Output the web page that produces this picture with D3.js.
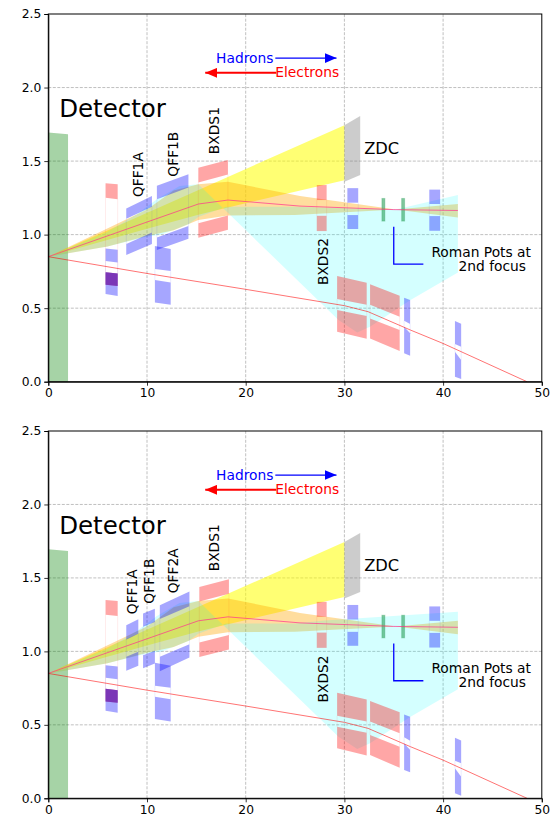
<!DOCTYPE html>
<html>
<head>
<meta charset="utf-8">
<script src="https://cdn.jsdelivr.net/npm/d3@7"></script>
<style>
body { margin: 0; background: white; }
text { font-family: "DejaVu Sans", sans-serif; }
</style>
</head>
<body>
<div class="container"></div>
<script>
let width = 553
let height = 824

let xTicks = [0, 10, 20, 30, 40, 50]
let yTicks = [0, 0.5, 1, 1.5, 2, 2.5]

// beam envelopes, [z, y]
let detector = [[0, 0], [0, 1.695], [2, 1.683], [2, 0]]
let zdc = [[30, 1.744], [31.6, 1.806], [31.6, 1.405], [30, 1.36]]
let cyanFan = [[0, 0.85], [6, 1.02], [9, 1.14], [11, 1.24], [13.3, 1.33], [15.2, 1.343], [25.5, 0.673], [29.4, 0.419], [31.3, 0.335], [32.6, 0.374], [36.7, 0.555], [41.5, 0.743], [41.5, 1.269], [35.2, 1.17], [25, 1.19], [18, 1.19], [15.2, 1.12], [14.2, 1.07], [11.5, 1.0], [10, 0.985], [6, 0.92]]
let cyanFanLower = [[0, 0.85], [6, 1.02], [9, 1.14], [11, 1.24], [13.3, 1.33], [15.2, 1.343], [25.5, 0.673], [29.4, 0.419], [31.3, 0.335], [32.6, 0.374], [36.7, 0.555], [41.5, 0.743], [41.5, 1.269], [28, 1.21], [25, 1.19], [18, 1.19], [15.2, 1.12], [14.2, 1.07], [11.5, 1.0], [10, 0.985], [6, 0.92]]
let yellowFan = [[0, 0.85], [30, 1.744], [30, 1.37], [18.2, 1.185], [15.2, 1.135], [10, 1.04]]
let orangeBand = [[0, 0.85], [10, 1.17], [12.7, 1.3], [15.2, 1.343], [18.2, 1.36], [25.5, 1.262], [35.2, 1.17], [41.5, 1.208], [41.5, 1.117], [35.2, 1.17], [25, 1.133], [18.2, 1.13], [15.2, 1.1], [12.7, 1.03], [10, 0.99], [6, 0.92]]
let hadronOrbit = [[0, 0.85], [15.2, 1.208], [18.2, 1.235], [25.5, 1.194], [35, 1.17], [41.5, 1.164]]
let electronOrbit = [[0, 0.85], [10, 0.736], [20, 0.628], [24.5, 0.578], [30, 0.517], [32.4, 0.476], [36.7, 0.351], [40, 0.26], [48.5, 0]]

// magnets: z0, z1, then upper block and lower block corners
let sharedRed = [
  [5.8, 7.03, 1.35, 1.343, 1.241, 1.25, 0.745, 0.736, 0.65, 0.659],
  [27.2, 28.2, 1.337, 1.337, 1.235, 1.235, 1.128, 1.128, 1.024, 1.024],
  [29.26, 32.26, 0.718, 0.673, 0.523, 0.562, 0.487, 0.446, 0.292, 0.34],
  [32.6, 35.6, 0.662, 0.585, 0.442, 0.523, 0.43, 0.351, 0.208, 0.294]
]
let sharedBlue = [
  [5.8, 7.03, 0.906, 0.897, 0.811, 0.82, 0.745, 0.736, 0.582, 0.596],
  [10.8, 12.4, 0.922, 0.902, 0.752, 0.766, 0.691, 0.675, 0.523, 0.539],
  [30.3, 31.4, 1.316, 1.316, 1.217, 1.217, 1.133, 1.133, 1.038, 1.038],
  [38.6, 39.7, 1.306, 1.306, 1.208, 1.208, 1.126, 1.126, 1.026, 1.026],
  [36.05, 36.66, 0.571, 0.555, 0.392, 0.415, 0.374, 0.329, 0.177, 0.193],
  [41.2, 41.83, 0.412, 0.394, 0.238, 0.256, 0.204, 0.147, 0.018, 0.034]
]
let overlap = [[5.8, 0.745], [7.03, 0.736], [7.03, 0.65], [5.8, 0.659]]
let romanPots = [[33.8, 34.1, 1.246, 1.092], [35.8, 36.1, 1.246, 1.092]]
let romanBracket = [[35, 1.054], [35, 0.8], [38, 0.8]]

let topRed = [[15.2, 18.2, 1.454, 1.507, 1.409, 1.355, 1.078, 1.13, 1.033, 0.979]]
let bottomRed = [[15.3, 18.3, 1.439, 1.491, 1.393, 1.339, 1.06, 1.112, 1.013, 0.961]]
let topBlue = [
  [7.9, 10.5, 1.178, 1.262, 1.189, 1.108, 0.936, 1.015, 0.936, 0.861],
  [11, 14.2, 1.332, 1.411, 1.321, 1.241, 0.981, 1.058, 0.972, 0.895]
]
let bottomBlue = [
  [7.9, 9.12, 1.178, 1.219, 1.12, 1.08, 0.963, 0.997, 0.902, 0.868],
  [9.6, 10.8, 1.257, 1.291, 1.2, 1.167, 0.974, 1.004, 0.918, 0.886],
  [11.3, 14.3, 1.314, 1.407, 1.307, 1.221, 0.963, 1.049, 0.958, 0.865]
]

// labels: text, z, y
let sharedLabels = [["Detector", 1.1, 1.797, 24.5], ["ZDC", 32, 1.548, 16.3]]
let topRotated = [["QFF1A", 9.6, 1.255], ["QFF1B", 13.1, 1.394], ["BXDS1", 17.3, 1.547], ["BXDS2", 28.3, 0.657]]
let bottomRotated = [["QFF1A", 8.96, 1.253], ["QFF1B", 10.7, 1.325], ["QFF2A", 13.1, 1.395], ["BXDS1", 17.3, 1.545], ["BXDS2", 28.3, 0.652]]

let svg = d3.select(".container")
  .append("svg")
  .attr("width", width)
  .attr("height", height)
  .style("display", "block")

let defs = svg.append("defs")
defs.append("marker").attr("id", "headBlue").attr("viewBox", "0 0 12 10").attr("refX", 12).attr("refY", 5)
  .attr("markerWidth", 12).attr("markerHeight", 10).attr("markerUnits", "userSpaceOnUse").attr("orient", "auto")
  .append("path").attr("d", "M0,0L12,5L0,10Z").attr("fill", "#0000ff")
defs.append("marker").attr("id", "headRed").attr("viewBox", "0 0 12 10").attr("refX", 12).attr("refY", 5)
  .attr("markerWidth", 12).attr("markerHeight", 10).attr("markerUnits", "userSpaceOnUse").attr("orient", "auto")
  .append("path").attr("d", "M0,0L12,5L0,10Z").attr("fill", "#ff0000")

function drawPanel(top, bottom, opts) {
  let x = d3.scaleLinear().domain([0, 50]).range([48.3, 541.8])
  let y = d3.scaleLinear().domain([0, 2.5]).range([bottom, top])
  let g = svg.append("g")
  let line = d3.line().x(d => x(d[0])).y(d => y(d[1]))
  let closed = pts => line(pts) + "Z"

  g.selectAll(".gx").data(xTicks.slice(1, -1)).enter().append("line")
    .attr("x1", d => x(d)).attr("x2", d => x(d)).attr("y1", bottom).attr("y2", top)
    .attr("stroke", "#b0b0b0").attr("stroke-width", 0.8).attr("stroke-dasharray", "3,1.5")
  g.selectAll(".gy").data(yTicks.slice(1, -1)).enter().append("line")
    .attr("y1", d => y(d)).attr("y2", d => y(d)).attr("x1", x(0)).attr("x2", x(50))
    .attr("stroke", "#b0b0b0").attr("stroke-width", 0.8).attr("stroke-dasharray", "3,1.5")

  g.append("path").attr("d", closed(detector)).attr("fill", "green").attr("fill-opacity", 0.35)
  g.append("path").attr("d", closed(yellowFan)).attr("fill", "yellow").attr("fill-opacity", 0.55)
  g.append("path").attr("d", closed(orangeBand)).attr("fill", "orange").attr("fill-opacity", 0.38).attr("fill-rule", "evenodd")
  g.append("path").attr("d", closed(opts.cyan)).attr("fill", "cyan").attr("fill-opacity", 0.17)
  g.append("path").attr("d", closed(zdc)).attr("fill", "#808080").attr("fill-opacity", 0.4)

  function magnets(data, color) {
    data.forEach(m => {
      let z0 = m[0], z1 = m[1]
      g.append("path").attr("d", closed([[z0, m[2]], [z1, m[3]], [z1, m[4]], [z0, m[5]]]))
        .attr("fill", color).attr("fill-opacity", 0.35)
      g.append("path").attr("d", closed([[z0, m[6]], [z1, m[7]], [z1, m[8]], [z0, m[9]]]))
        .attr("fill", color).attr("fill-opacity", 0.35)
      // faint aperture edges between the two blocks
      g.append("path").attr("d", line([[z0, m[5]], [z0, m[6]]])).attr("stroke", color).attr("stroke-opacity", 0.08).attr("fill", "none")
      g.append("path").attr("d", line([[z1, m[4]], [z1, m[7]]])).attr("stroke", color).attr("stroke-opacity", 0.08).attr("fill", "none")
    })
  }
  magnets(sharedRed.concat(opts.red), "#ff0000")
  magnets(sharedBlue.concat(opts.blue), "#0000ff")
  g.append("path").attr("d", closed(overlap)).attr("fill", "#6a20b0").attr("fill-opacity", 0.7)

  romanPots.forEach(r => {
    g.append("rect").attr("x", x(r[0])).attr("width", x(r[1]) - x(r[0]))
      .attr("y", y(r[2])).attr("height", y(r[3]) - y(r[2]))
      .attr("fill", "#2ca05a").attr("fill-opacity", 0.6)
      .attr("stroke", "#2ca05a").attr("stroke-opacity", 0.3).attr("stroke-width", 1)
  })

  g.append("path").attr("d", line(hadronOrbit)).attr("fill", "none").attr("stroke", "#ff3090").attr("stroke-opacity", 0.7).attr("stroke-width", 1)
  g.append("path").attr("d", line(electronOrbit)).attr("fill", "none").attr("stroke", "#ff0000").attr("stroke-opacity", 0.55).attr("stroke-width", 1)

  g.append("path").attr("d", line(romanBracket)).attr("fill", "none").attr("stroke", "#0000ff").attr("stroke-width", 1.3)

  // axes
  g.append("g").attr("transform", `translate(0,${bottom})`)
    .call(d3.axisBottom(x).tickValues(xTicks).tickSize(4).tickPadding(3).tickFormat(d3.format("d")))
  g.append("g").attr("transform", `translate(${x(0)},0)`)
    .call(d3.axisLeft(y).tickValues(yTicks).tickSize(4).tickPadding(3).tickFormat(d3.format(".1f")))
  g.selectAll(".tick text").attr("font-size", 12.3).attr("font-family", "DejaVu Sans").attr("fill", "#000")
  g.selectAll(".domain").attr("stroke", "#000").attr("stroke-width", 1)
  g.selectAll(".tick line").attr("stroke", "#000").attr("stroke-width", 0.8)
  g.append("rect").attr("x", x(0)).attr("y", top).attr("width", x(50) - x(0)).attr("height", bottom - top)
    .attr("fill", "none").attr("stroke", "#000").attr("stroke-width", 1)

  // arrows and labels
  g.append("path").attr("d", line([[23, 2.2], [29.2, 2.2]])).attr("stroke", "#0000ff").attr("stroke-width", 1.2).attr("marker-end", "url(#headBlue)")
  g.append("path").attr("d", line([[23.1, 2.1], [15.9, 2.1]])).attr("stroke", "#ff0000").attr("stroke-width", 2).attr("marker-end", "url(#headRed)")
  g.append("text").attr("x", x(17)).attr("y", y(2.2) + 4.5).attr("font-size", 13.8).attr("fill", "#0000ff").text("Hadrons")
  g.append("text").attr("x", x(23)).attr("y", y(2.1) + 4.5).attr("font-size", 13.8).attr("fill", "#ff0000").text("Electrons")

  sharedLabels.forEach(l => {
    g.append("text").attr("x", x(l[1])).attr("y", y(l[2])).attr("font-size", l[3]).text(l[0])
  })
  opts.rotated.forEach(l => {
    g.append("text").attr("transform", `translate(${x(l[1])},${y(l[2])}) rotate(-90)`).attr("font-size", 13.8).text(l[0])
  })
  g.append("text").attr("x", x(48.9)).attr("y", y(0.85)).attr("text-anchor", "end").attr("font-size", 13.8).text("Roman Pots at")
  g.append("text").attr("x", x(48.4)).attr("y", y(0.755)).attr("text-anchor", "end").attr("font-size", 13.8).text("2nd focus")
}

drawPanel(14, 381.7, { cyan: cyanFan, red: topRed, blue: topBlue, rotated: topRotated })
drawPanel(431, 798.3, { cyan: cyanFanLower, red: bottomRed, blue: bottomBlue, rotated: bottomRotated })
</script>
</body>
</html>
